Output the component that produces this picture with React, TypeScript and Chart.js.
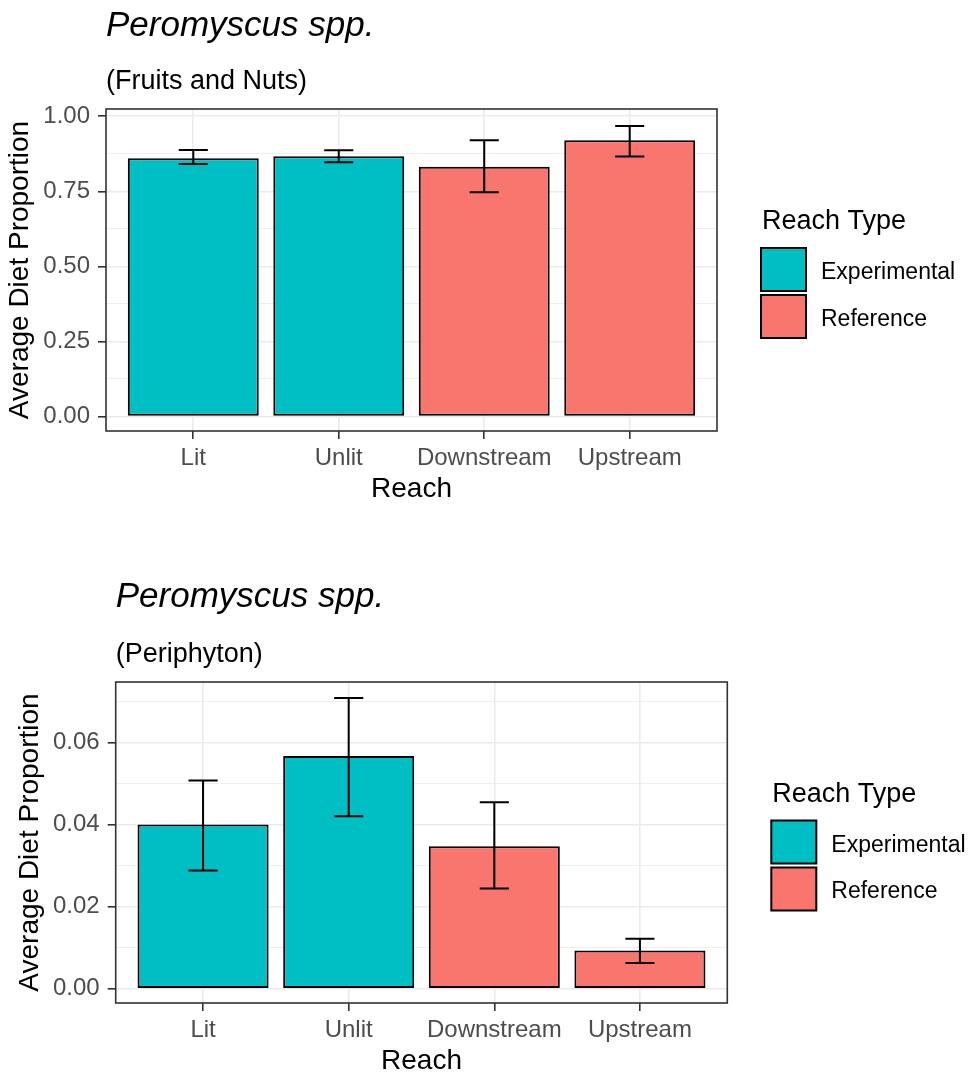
import React, { useEffect, useRef } from 'react';
import { Chart, registerables } from 'chart.js';

Chart.register(...registerables);

const FONT = "'Liberation Sans', Arial, sans-serif";

// ---- data ----
const categories = ['Lit', 'Unlit', 'Downstream', 'Upstream'];
const reachTypes = ['Experimental', 'Experimental', 'Reference', 'Reference'];
const legendLabels = ['Experimental', 'Reference'];
const legendColors = ['#00BFC4', '#F8766D'];

const fruitsMean = [0.860, 0.867, 0.832, 0.920];
const fruitsLower = [0.841, 0.847, 0.747, 0.866];
const fruitsUpper = [0.888, 0.887, 0.920, 0.968];
const fruitsTicks = [0, 0.25, 0.5, 0.75, 1.0];
const fruitsTickLabels = ['0.00', '0.25', '0.50', '0.75', '1.00'];
const fruitsMinorTicks = [0.125, 0.375, 0.625, 0.875];

const periMean = [0.0400, 0.0567, 0.0347, 0.0093];
const periLower = [0.0288, 0.0420, 0.0244, 0.0063];
const periUpper = [0.0507, 0.0708, 0.0454, 0.0122];
const periTicks = [0, 0.02, 0.04, 0.06];
const periTickLabels = ['0.00', '0.02', '0.04', '0.06'];
const periMinorTicks = [0.01, 0.03, 0.05, 0.07];

type PanelProps = {
  title: string;
  subtitle: string;
  mean: number[];
  lower: number[];
  upper: number[];
  ticks: number[];
  tickLabels: string[];
  minor: number[];
  yMin: number;
  yMax: number;
  top: number;
  height: number;
  panelLeft: number;
  panelRight: number;
  titlePadTop: number;
  subPadTop: number;
  subPadBottom: number;
  yTitlePad: number;
};

const errorBarPlugin = {
  id: 'errbars',
  afterDatasetsDraw(chart: any, _args: any, opts: any) {
    const { ctx, scales } = chart;
    const meta = chart.getDatasetMeta(0);
    const half = (scales.x.getPixelForValue(2) - scales.x.getPixelForValue(1)) * 0.1;
    ctx.save();
    ctx.strokeStyle = '#000000';
    ctx.lineWidth = 2;
    meta.data.forEach((bar: any, i: number) => {
      const x = bar.x;
      const yl = scales.y.getPixelForValue(opts.lower[i]);
      const yh = scales.y.getPixelForValue(opts.upper[i]);
      ctx.beginPath();
      ctx.moveTo(x, yl);
      ctx.lineTo(x, yh);
      ctx.moveTo(x - half, yl);
      ctx.lineTo(x + half, yl);
      ctx.moveTo(x - half, yh);
      ctx.lineTo(x + half, yh);
      ctx.stroke();
    });
    ctx.restore();
  },
};

const frameLegendPlugin = {
  id: 'frameLegend',
  afterDraw(chart: any) {
    const { ctx, chartArea } = chart;
    const { left, right, top, bottom } = chartArea;
    ctx.save();
    ctx.strokeStyle = '#333333';
    ctx.lineWidth = 1.6;
    ctx.strokeRect(left, top, right - left, bottom - top);

    // legend
    const mid = (top + bottom) / 2;
    const x0 = right + 44;
    ctx.fillStyle = '#000000';
    ctx.textBaseline = 'alphabetic';
    ctx.textAlign = 'left';
    ctx.font = `27px ${FONT}`;
    ctx.fillText('Reach Type', x0 + 1, mid - 41);
    const keyTops = [mid - 22, mid + 25];
    const labelBase = [mid + 9, mid + 55.5];
    ctx.font = `23px ${FONT}`;
    legendLabels.forEach((lab, i) => {
      ctx.fillStyle = legendColors[i];
      ctx.fillRect(x0, keyTops[i], 45, 43);
      ctx.strokeStyle = '#000000';
      ctx.lineWidth = 2;
      ctx.strokeRect(x0, keyTops[i], 45, 43);
      ctx.fillStyle = '#000000';
      ctx.fillText(lab, x0 + 60, labelBase[i]);
    });
    ctx.restore();
  },
};

function BarPanel(p: PanelProps) {
  const ref = useRef<HTMLCanvasElement | null>(null);
  useEffect(() => {
    if (!ref.current) return;
    const allTicks = [...p.ticks, ...p.minor].sort((a, b) => a - b);
    const isMajor = (v: number) => p.ticks.indexOf(v) >= 0;
    const chart = new Chart(ref.current, {
      type: 'bar',
      data: {
        datasets: [
          {
            data: p.mean.map((v, i) => ({ x: i + 1, y: v })),
            backgroundColor: reachTypes.map((t) => legendColors[legendLabels.indexOf(t)]),
            borderColor: '#000000',
            borderWidth: 2,
            borderSkipped: false,
            categoryPercentage: 0.9,
            barPercentage: 1.0,
          } as any,
        ],
      },
      options: {
        responsive: false,
        animation: false,
        events: [],
        layout: { padding: { left: 0, right: 974 - p.panelRight, top: 0, bottom: 0 } },
        plugins: {
          legend: { display: false },
          tooltip: { enabled: false },
          title: {
            display: true,
            text: p.title,
            align: 'start',
            fullSize: false,
            color: '#000000',
            font: { family: FONT, size: 35, style: 'italic', weight: 'normal', lineHeight: 1 },
            padding: { top: p.titlePadTop, bottom: 0 },
          },
          subtitle: {
            display: true,
            text: p.subtitle,
            align: 'start',
            fullSize: false,
            color: '#000000',
            font: { family: FONT, size: 27, weight: 'normal', lineHeight: 1 },
            padding: { top: p.subPadTop, bottom: p.subPadBottom },
          },
          errbars: { lower: p.lower, upper: p.upper },
        } as any,
        scales: {
          x: {
            type: 'linear',
            min: 0.4,
            max: 4.6,
            offset: false,
            afterBuildTicks: (s: any) => {
              s.ticks = categories.map((_, i) => ({ value: i + 1 }));
            },
            afterFit: (s: any) => {
              s.height = 73;
            },
            ticks: {
              autoSkip: false,
              maxRotation: 0,
              minRotation: 0,
              padding: 5,
              color: '#4D4D4D',
              font: { family: FONT, size: 24, lineHeight: 1.2 },
              callback: (v: any) => categories[Math.round(Number(v)) - 1],
            },
            grid: {
              offset: false,
              color: '#EBEBEB',
              lineWidth: 1.6,
              tickLength: 8,
              tickColor: '#333333',
              tickWidth: 1.6,
            },
            border: { display: false },
            title: {
              display: true,
              text: 'Reach',
              color: '#000000',
              font: { family: FONT, size: 28, lineHeight: 1 },
              padding: { top: 0, bottom: 0.5 },
            },
          },
          y: {
            type: 'linear',
            min: p.yMin,
            max: p.yMax,
            afterBuildTicks: (s: any) => {
              s.ticks = allTicks.map((v) => ({ value: v }));
            },
            afterFit: (s: any) => {
              s.width = p.panelLeft;
            },
            ticks: {
              autoSkip: false,
              padding: 8,
              color: '#4D4D4D',
              font: { family: FONT, size: 24, lineHeight: 1.2 },
              callback: (v: any) => {
                const i = p.ticks.indexOf(Number(v));
                return i >= 0 ? p.tickLabels[i] : '';
              },
            },
            grid: {
              color: '#EBEBEB',
              lineWidth: (c: any) => (c.tick && isMajor(c.tick.value) ? 1.6 : 0.8),
              tickLength: 8,
              tickColor: (c: any) => (c.tick && isMajor(c.tick.value) ? '#333333' : 'rgba(0,0,0,0)'),
              tickWidth: 1.6,
            },
            border: { display: false },
            title: {
              display: true,
              text: 'Average Diet Proportion',
              color: '#000000',
              font: { family: FONT, size: 28, lineHeight: 1.2 },
              padding: { top: p.yTitlePad, bottom: 0 },
            },
          },
        },
      } as any,
      plugins: [errorBarPlugin, frameLegendPlugin],
    });
    return () => chart.destroy();
  }, []);
  return (
    <canvas
      ref={ref}
      width={974}
      height={p.height}
      style={{ position: 'absolute', left: 0, top: p.top, width: 974, height: p.height }}
    />
  );
}

export default function App() {
  return (
    <div style={{ position: 'absolute', left: 0, top: 0, width: 974, height: 1076, background: '#ffffff', overflow: 'hidden' }}>
      <BarPanel
        title="Peromyscus spp."
        subtitle="(Fruits and Nuts)"
        mean={fruitsMean}
        lower={fruitsLower}
        upper={fruitsUpper}
        ticks={fruitsTicks}
        tickLabels={fruitsTickLabels}
        minor={fruitsMinorTicks}
        yMin={-0.0483}
        yMax={1.0243}
        top={0}
        height={504}
        panelLeft={106}
        panelRight={717}
        titlePadTop={8.3}
        subPadTop={25}
        subPadBottom={13.7}
        yTitlePad={3}
      />
      <BarPanel
        title="Peromyscus spp."
        subtitle="(Periphyton)"
        mean={periMean}
        lower={periLower}
        upper={periUpper}
        ticks={periTicks}
        tickLabels={periTickLabels}
        minor={periMinorTicks}
        yMin={-0.00346}
        yMax={0.0747}
        top={540}
        height={536}
        panelLeft={115.7}
        panelRight={727.3}
        titlePadTop={40}
        subPadTop={25.8}
        subPadBottom={14.2}
        yTitlePad={13.7}
      />
    </div>
  );
}
